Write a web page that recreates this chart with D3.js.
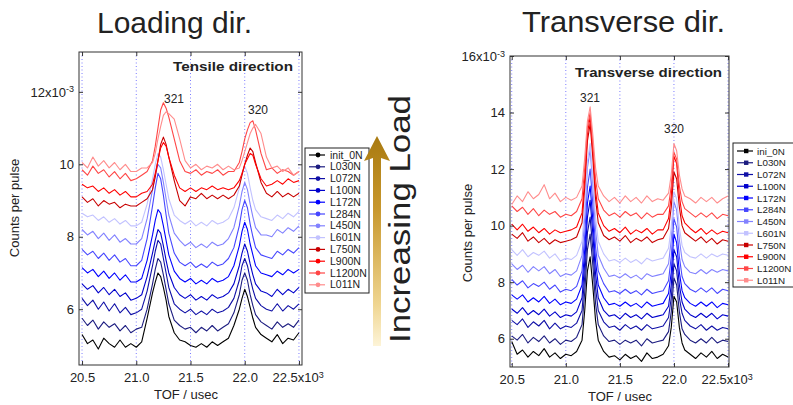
<!DOCTYPE html>
<html>
<head>
<meta charset="utf-8">
<script src="https://cdn.jsdelivr.net/npm/d3@7"></script>
<style>
body { margin: 0; background: #fff; }
svg { display: block; }
text { font-family: "Liberation Sans", Arial, sans-serif; fill: #222; }
</style>
</head>
<body>
<svg id="chart" width="793" height="405"></svg>
<script>
// time of flight (x10^3 usec), finer steps around the 321 and 320 peaks
var tof = [20.50,20.55,20.60,20.65,20.70,20.75,20.80,20.85,20.90,20.95,21.00,21.05,21.10,21.15,21.175,21.20,21.225,21.25,21.275,21.30,21.35,21.40,21.45,21.50,21.55,21.60,21.65,21.70,21.75,21.80,21.85,21.90,21.95,21.975,22.00,22.025,22.05,22.075,22.10,22.15,22.20,22.25,22.30,22.35,22.40,22.45,22.50];

var xTicks = [20.5, 21.0, 21.5, 22.0, 22.5];
var tensileYTicks = [6, 8, 10, 12];
var transverseYTicks = [6, 8, 10, 12, 14, 16];

var tensileLabels = ["init_0N","L030N","L072N","L100N","L172N","L284N","L450N","L601N","L750N","L900N","L1200N","L011N"];
var transverseLabels = ["ini_0N","L030N","L072N","L100N","L172N","L284N","L450N","L601N","L750N","L900N","L1200N","L011N"];
var lineColours = ["#000000","#1c1c80","#0f0fa6","#0000cc","#0000ff","#4646ff","#8282ff","#c2c2ff","#c80000","#ff0000","#ff4646","#ff8c8c"];

// tensile (loading) direction, counts per pulse x10^-3
var ten_init = [5.30,5.05,5.15,4.90,5.20,5.05,4.95,5.15,4.95,5.05,4.95,5.10,5.75,6.45,6.75,7.00,6.90,6.60,6.25,5.80,5.35,5.15,5.10,5.00,4.95,5.05,4.95,5.10,5.00,5.10,5.20,5.55,6.00,6.30,6.55,6.35,6.05,5.75,5.50,5.30,5.20,5.10,5.30,5.05,5.20,5.15,5.35];
var ten_L030 = [5.75,5.55,5.70,5.45,5.65,5.50,5.60,5.40,5.55,5.35,5.45,5.50,6.00,6.70,7.10,7.40,7.30,6.95,6.55,6.15,5.70,5.55,5.45,5.50,5.35,5.50,5.40,5.55,5.40,5.50,5.60,5.90,6.40,6.80,7.00,6.80,6.40,6.10,5.85,5.65,5.55,5.45,5.65,5.50,5.60,5.50,5.70];
var ten_L072 = [6.30,6.10,6.25,6.00,6.20,5.95,6.15,5.90,6.05,5.85,5.90,6.00,6.50,7.20,7.60,7.90,7.80,7.40,7.00,6.60,6.15,6.00,5.90,6.00,5.85,5.95,5.85,6.00,5.90,5.95,6.05,6.30,6.80,7.20,7.40,7.20,6.85,6.55,6.30,6.10,6.00,5.95,6.15,5.95,6.10,6.00,6.15];
var ten_L100 = [6.70,6.55,6.65,6.45,6.60,6.40,6.55,6.35,6.45,6.25,6.30,6.40,6.90,7.55,7.90,8.20,8.10,7.75,7.35,7.00,6.60,6.40,6.30,6.40,6.25,6.35,6.25,6.40,6.30,6.35,6.45,6.70,7.20,7.55,7.80,7.60,7.25,6.95,6.70,6.50,6.45,6.35,6.55,6.40,6.55,6.45,6.60];
var ten_L172 = [7.15,7.00,7.10,6.90,7.05,6.85,7.00,6.80,6.95,6.75,6.75,6.85,7.35,8.05,8.45,8.75,8.65,8.30,7.90,7.50,7.05,6.85,6.75,6.85,6.70,6.80,6.70,6.85,6.75,6.80,6.90,7.20,7.75,8.15,8.40,8.20,7.80,7.50,7.20,7.00,6.95,6.90,7.05,6.95,7.10,7.00,7.10];
var ten_L284 = [7.65,7.50,7.60,7.40,7.55,7.35,7.50,7.30,7.40,7.20,7.20,7.35,7.95,8.85,9.35,9.75,9.60,9.15,8.60,8.10,7.55,7.30,7.20,7.30,7.15,7.25,7.15,7.30,7.20,7.25,7.40,7.70,8.30,8.75,9.00,8.80,8.35,8.00,7.70,7.50,7.45,7.40,7.60,7.50,7.65,7.55,7.70];
var ten_L450 = [8.20,8.05,8.15,7.95,8.10,7.90,8.05,7.85,7.95,7.80,7.80,7.95,8.50,9.30,9.70,10.00,9.90,9.50,9.05,8.60,8.10,7.90,7.75,7.85,7.70,7.80,7.70,7.85,7.75,7.80,7.95,8.25,8.85,9.25,9.50,9.30,8.90,8.55,8.25,8.05,8.05,8.00,8.20,8.10,8.25,8.15,8.30];
var ten_L601 = [8.65,8.55,8.60,8.45,8.55,8.40,8.50,8.35,8.45,8.30,8.30,8.40,8.90,9.60,10.00,10.30,10.20,9.85,9.45,9.05,8.60,8.45,8.35,8.45,8.30,8.40,8.30,8.45,8.35,8.40,8.50,8.80,9.35,9.75,9.95,9.75,9.35,9.00,8.75,8.55,8.50,8.45,8.60,8.50,8.65,8.55,8.70];
var ten_L750 = [9.10,8.95,9.05,8.85,9.00,8.90,8.95,8.80,8.90,8.85,8.85,8.95,9.05,9.30,9.65,10.10,10.55,10.75,10.55,10.20,9.55,9.00,8.85,9.10,9.05,9.20,9.05,9.15,9.05,9.15,9.05,9.15,9.40,9.70,10.00,10.25,10.45,10.35,10.05,9.50,9.20,9.10,9.25,9.10,9.20,9.10,9.20];
var ten_L900 = [9.45,9.35,9.40,9.25,9.35,9.20,9.30,9.15,9.25,9.10,9.10,9.20,9.25,9.45,9.75,10.10,10.45,10.60,10.50,10.20,9.70,9.35,9.25,9.35,9.25,9.35,9.30,9.40,9.30,9.35,9.30,9.35,9.55,9.75,10.00,10.15,10.30,10.25,10.00,9.60,9.40,9.45,9.55,9.45,9.60,9.50,9.55];
var ten_L1200 = [9.85,9.70,9.95,9.75,9.85,9.65,9.80,9.60,9.75,9.55,9.60,9.70,9.80,10.10,10.50,11.00,11.50,11.70,11.55,11.30,10.70,10.10,9.80,9.75,9.85,9.70,9.80,9.75,9.85,9.70,9.80,9.80,10.05,10.35,10.70,10.95,11.15,11.20,10.95,10.30,9.85,9.90,9.75,9.85,9.80,9.70,9.80];
var ten_L011 = [10.05,9.90,10.20,9.95,10.10,9.90,10.05,9.85,10.00,9.80,9.80,9.90,9.90,10.05,10.30,10.70,11.05,11.35,11.45,11.40,11.25,10.70,10.10,9.90,10.00,9.85,9.95,9.90,10.00,9.85,9.95,9.85,9.90,10.10,10.35,10.60,10.85,11.00,11.10,10.85,10.20,9.90,9.95,9.80,9.90,9.70,9.80];

// transverse direction, counts per pulse x10^-3
var tra_init = [5.90,5.45,5.60,5.35,5.55,5.40,5.65,5.35,5.50,5.30,5.45,5.40,5.55,5.95,7.00,8.40,8.90,7.85,6.65,5.95,5.55,5.35,5.40,5.25,5.45,5.30,5.40,5.20,5.50,5.30,5.35,5.45,5.75,6.40,7.50,7.30,6.40,5.85,5.60,5.45,5.30,5.50,5.35,5.55,5.30,5.45,5.35];
var tra_L030 = [6.10,5.95,6.15,5.85,6.05,5.90,6.10,5.85,6.00,5.80,5.95,5.90,6.05,6.50,7.65,9.15,9.70,8.60,7.25,6.50,6.10,5.90,5.95,5.80,5.95,5.85,5.95,5.75,6.00,5.85,5.90,5.95,6.25,6.95,8.15,7.90,6.95,6.35,6.15,5.95,5.85,6.00,5.85,6.05,5.85,5.95,5.90];
var tra_L072 = [6.65,6.50,6.70,6.40,6.60,6.45,6.65,6.35,6.55,6.35,6.45,6.40,6.55,7.00,8.20,9.75,10.30,9.15,7.80,7.00,6.60,6.40,6.45,6.30,6.50,6.35,6.45,6.30,6.50,6.35,6.40,6.45,6.75,7.45,8.65,8.40,7.45,6.90,6.65,6.45,6.35,6.50,6.30,6.45,6.30,6.40,6.35];
var tra_L100 = [7.05,6.90,7.10,6.85,7.00,6.85,7.05,6.80,6.95,6.75,6.85,6.80,6.95,7.45,8.70,10.30,10.90,9.70,8.30,7.45,7.00,6.80,6.85,6.70,6.90,6.75,6.85,6.70,6.90,6.75,6.80,6.85,7.15,7.90,9.15,8.90,7.90,7.30,7.05,6.85,6.75,6.90,6.75,6.90,6.70,6.85,6.80];
var tra_L172 = [7.55,7.40,7.55,7.30,7.45,7.30,7.50,7.25,7.40,7.20,7.30,7.25,7.40,7.90,9.15,10.80,11.40,10.20,8.75,7.90,7.45,7.20,7.25,7.15,7.30,7.15,7.25,7.10,7.30,7.15,7.20,7.25,7.60,8.35,9.70,9.40,8.35,7.70,7.45,7.25,7.15,7.30,7.15,7.30,7.10,7.25,7.20];
var tra_L284 = [8.10,7.90,8.05,7.80,7.95,7.85,8.00,7.75,7.90,7.65,7.75,7.70,7.85,8.40,9.65,11.35,12.00,10.75,9.25,8.40,7.95,7.65,7.70,7.60,7.75,7.60,7.70,7.55,7.75,7.60,7.65,7.70,8.05,8.90,10.25,9.95,8.90,8.20,7.95,7.75,7.65,7.80,7.65,7.80,7.60,7.75,7.70];
var tra_L450 = [8.65,8.45,8.60,8.35,8.55,8.40,8.55,8.30,8.45,8.20,8.30,8.25,8.40,8.95,10.30,12.05,12.70,11.40,9.85,8.95,8.50,8.20,8.25,8.15,8.30,8.15,8.25,8.10,8.30,8.20,8.25,8.30,8.65,9.50,10.85,10.55,9.50,8.80,8.55,8.35,8.30,8.45,8.30,8.45,8.35,8.45,8.40];
var tra_L601 = [9.15,8.95,9.15,8.90,9.05,8.95,9.10,8.85,9.00,8.75,8.85,8.80,8.95,9.45,10.70,12.30,12.90,11.70,10.30,9.45,9.00,8.75,8.80,8.70,8.85,8.70,8.80,8.65,8.85,8.75,8.80,8.85,9.20,9.95,11.20,10.95,9.95,9.30,9.05,8.90,8.85,9.00,8.85,9.00,8.90,9.00,8.95];
var tra_L750 = [9.70,9.55,9.75,9.45,9.60,9.40,9.55,9.35,9.50,9.40,9.45,9.50,9.60,10.10,11.35,13.00,13.60,12.40,10.95,10.10,9.65,9.50,9.60,9.45,9.65,9.40,9.55,9.45,9.60,9.40,9.50,9.55,9.90,10.65,11.90,11.65,10.65,10.00,9.75,9.60,9.45,9.60,9.40,9.55,9.35,9.50,9.45];
var tra_L900 = [10.05,9.85,10.05,9.80,9.95,9.75,9.90,9.70,9.85,9.75,9.80,9.85,9.95,10.45,11.65,13.25,13.85,12.65,11.25,10.45,10.00,9.80,9.90,9.75,9.95,9.70,9.85,9.75,9.90,9.70,9.85,9.85,10.25,11.05,12.45,12.20,11.05,10.35,10.10,9.90,9.75,9.90,9.70,9.85,9.70,9.80,9.75];
var tra_L1200 = [10.70,10.50,10.65,10.40,10.60,10.35,10.55,10.40,10.50,10.30,10.40,10.35,10.50,10.95,12.05,13.50,14.00,12.90,11.65,10.95,10.55,10.35,10.45,10.30,10.50,10.35,10.45,10.25,10.45,10.30,10.40,10.40,10.70,11.40,12.60,12.35,11.40,10.85,10.60,10.45,10.30,10.45,10.30,10.45,10.25,10.40,10.35];
var tra_L011 = [10.75,11.05,10.85,11.20,10.95,11.10,11.45,10.95,11.15,10.85,11.00,10.90,11.00,11.40,12.40,13.70,14.20,13.20,12.05,11.40,11.05,10.85,11.00,10.80,11.05,10.85,11.00,10.80,11.05,10.85,10.95,10.90,11.15,11.80,12.90,12.65,11.80,11.30,11.05,10.95,10.80,11.00,10.85,11.00,10.80,10.95,11.05];

var tensileSeries = [ten_init, ten_L030, ten_L072, ten_L100, ten_L172, ten_L284, ten_L450, ten_L601, ten_L750, ten_L900, ten_L1200, ten_L011];
var transverseSeries = [tra_init, tra_L030, tra_L072, tra_L100, tra_L172, tra_L284, tra_L450, tra_L601, tra_L750, tra_L900, tra_L1200, tra_L011];

var svg = d3.select('#chart');
var defs = svg.append('defs');

function drawPanel(p) {
    var x = d3.scaleLinear().domain(p.xDom).range([p.left, p.right]);
    var y = d3.scaleLinear().domain(p.yDom).range([p.bottom, p.top]);
    var g = svg.append('g');

    defs.append('clipPath').attr('id', p.id + '-clip')
        .append('rect').attr('x', p.left).attr('y', p.top)
        .attr('width', p.right - p.left).attr('height', p.bottom - p.top);

    // dotted vertical grid
    g.selectAll('line.grid').data(xTicks).enter().append('line')
        .attr('x1', function (d) { return x(d); }).attr('x2', function (d) { return x(d); })
        .attr('y1', p.top).attr('y2', p.bottom)
        .attr('stroke', '#7c7cff').attr('stroke-width', 1)
        .attr('stroke-dasharray', '1,2.5');

    var line = d3.line()
        .x(function (d, i) { return x(tof[i]); })
        .y(function (d) { return y(d); });

    var lines = g.append('g').attr('clip-path', 'url(#' + p.id + '-clip)');
    p.series.forEach(function (s, i) {
        lines.append('path').datum(s)
            .attr('d', line)
            .attr('fill', 'none')
            .attr('stroke', lineColours[i])
            .attr('stroke-width', 1.1)
            .attr('stroke-linejoin', 'round');
    });

    // box
    g.append('rect').attr('x', p.left).attr('y', p.top)
        .attr('width', p.right - p.left).attr('height', p.bottom - p.top)
        .attr('fill', 'none').attr('stroke', '#333').attr('stroke-width', 1);

    // axes with inward ticks
    var xb = g.append('g').attr('transform', 'translate(0,' + p.bottom + ')')
        .call(d3.axisBottom(x).tickValues(xTicks).tickSize(-4).tickSizeOuter(0)
            .tickPadding(8).tickFormat(d3.format('.1f')));
    var xt = g.append('g').attr('transform', 'translate(0,' + p.top + ')')
        .call(d3.axisTop(x).tickValues(xTicks).tickSize(-4).tickSizeOuter(0).tickFormat(''));
    var yl = g.append('g').attr('transform', 'translate(' + p.left + ',0)')
        .call(d3.axisLeft(y).tickValues(p.yTicks).tickSize(-4).tickSizeOuter(0).tickPadding(5));
    var yr = g.append('g').attr('transform', 'translate(' + p.right + ',0)')
        .call(d3.axisRight(y).tickValues(p.yTicks).tickSize(-4).tickSizeOuter(0).tickFormat(''));

    [xb, xt, yl, yr].forEach(function (a) {
        a.select('.domain').remove();
        a.selectAll('line').attr('stroke', '#333');
        a.attr('font-family', null).attr('font-size', 13);
        a.selectAll('text').attr('fill', '#222');
    });

    // exponent labels
    var lastX = xb.selectAll('.tick text').filter(function (d) { return d === 22.5; });
    lastX.attr('text-anchor', 'start').attr('x', -27).text('22.5x10');
    lastX.append('tspan').attr('dy', '-0.45em').attr('font-size', 9).text('3');

    var topY = yl.selectAll('.tick text').filter(function (d) { return d === p.yTicks[p.yTicks.length - 1]; });
    topY.text(d3.format('d')(p.yTicks[p.yTicks.length - 1]) + 'x10');
    topY.append('tspan').attr('dy', '-0.45em').attr('font-size', 9).text('-3');

    // axis titles
    g.append('text').attr('x', p.xLabel[0]).attr('y', p.xLabel[1])
        .attr('text-anchor', 'middle').attr('font-size', 13).text('TOF / usec');
    g.append('text')
        .attr('transform', 'translate(' + p.yLabel[0] + ',' + p.yLabel[1] + ') rotate(-90)')
        .attr('text-anchor', 'middle').attr('font-size', 13).text('Counts per pulse');

    // in-plot annotations
    g.append('text').attr('x', p.inner[0]).attr('y', p.inner[1])
        .attr('text-anchor', 'end').attr('font-size', 13).attr('font-weight', 'bold')
        .attr('textLength', p.inner[2]).attr('lengthAdjust', 'spacingAndGlyphs')
        .attr('fill', '#000').text(p.innerText);
    g.append('text').attr('x', p.peak321[0]).attr('y', p.peak321[1])
        .attr('text-anchor', 'middle').attr('font-size', 12).text('321');
    g.append('text').attr('x', p.peak320[0]).attr('y', p.peak320[1])
        .attr('text-anchor', 'middle').attr('font-size', 12).text('320');

    // legend
    var lg = g.append('g');
    lg.append('rect').attr('x', p.legend.x).attr('y', p.legend.y)
        .attr('width', p.legend.w).attr('height', p.legend.h)
        .attr('fill', '#fff').attr('stroke', '#222').attr('stroke-width', 1);
    p.labels.forEach(function (name, i) {
        var ly = p.legend.y0 + i * p.legend.step;
        var lx = p.legend.x + 4;
        lg.append('line').attr('x1', lx).attr('x2', lx + 16).attr('y1', ly).attr('y2', ly)
            .attr('stroke', lineColours[i]).attr('stroke-width', 1.2);
        if (p.marker === 'circle') {
            lg.append('circle').attr('cx', lx + 9).attr('cy', ly).attr('r', 2.4)
                .attr('fill', lineColours[i]);
        } else {
            lg.append('rect').attr('x', lx + 7).attr('y', ly - 2.2).attr('width', 4.4).attr('height', 4.4)
                .attr('fill', lineColours[i]);
        }
        lg.append('text').attr('x', lx + p.legend.tx).attr('y', ly + 3.6)
            .attr('font-size', p.legend.fs).attr('fill', '#111').text(name);
    });
}

drawPanel({
    id: 'tensile', left: 79, right: 302, top: 52, bottom: 365,
    xDom: [20.472, 22.528], yDom: [4.46, 13.1], yTicks: tensileYTicks,
    series: tensileSeries, labels: tensileLabels, marker: 'circle',
    xLabel: [186, 399], yLabel: [19, 208],
    inner: [293, 71, 120], innerText: 'Tensile direction',
    peak321: [174, 103], peak320: [258, 114],
    legend: { x: 305, y: 148, w: 64, h: 145, y0: 155, step: 11.8, tx: 21, fs: 10.5 }
});

drawPanel({
    id: 'transverse', left: 510, right: 729, top: 56, bottom: 367,
    xDom: [20.484, 22.509], yDom: [5, 16], yTicks: transverseYTicks,
    series: transverseSeries, labels: transverseLabels, marker: 'square',
    xLabel: [620, 401], yLabel: [472, 233],
    inner: [722, 77, 147], innerText: 'Transverse direction',
    peak321: [590, 102], peak320: [674, 133],
    legend: { x: 733, y: 143, w: 66, h: 144, y0: 151, step: 11.75, tx: 20, fs: 9.8 }
});

// panel titles
svg.append('text').attr('x', 97).attr('y', 33)
    .attr('font-family', '"DejaVu Sans", sans-serif').attr('font-size', 30)
    .attr('textLength', 155).attr('lengthAdjust', 'spacingAndGlyphs')
    .attr('fill', '#000').text('Loading dir.');
svg.append('text').attr('x', 522).attr('y', 32)
    .attr('font-family', '"DejaVu Sans", sans-serif').attr('font-size', 30)
    .attr('textLength', 203).attr('lengthAdjust', 'spacingAndGlyphs')
    .attr('fill', '#000').text('Transverse dir.');

// increasing load arrow
var grad = defs.append('linearGradient').attr('id', 'arrowGrad')
    .attr('x1', 0).attr('y1', 0).attr('x2', 0).attr('y2', 1);
grad.append('stop').attr('offset', '0%').attr('stop-color', '#a97a10');
grad.append('stop').attr('offset', '35%').attr('stop-color', '#c8982e');
grad.append('stop').attr('offset', '80%').attr('stop-color', '#efd590');
grad.append('stop').attr('offset', '100%').attr('stop-color', '#fdf4d8');

svg.append('path')
    .attr('d', 'M377,136 L390,161 L381,158 L381,346 L373,346 L373,158 L364,161 Z')
    .attr('fill', 'url(#arrowGrad)');

svg.append('text')
    .attr('transform', 'translate(410,343) rotate(-90)')
    .attr('font-family', '"DejaVu Sans", sans-serif').attr('font-size', 30)
    .attr('textLength', 248).attr('lengthAdjust', 'spacingAndGlyphs')
    .attr('fill', '#000').text('Increasing Load');
</script>
</body>
</html>
